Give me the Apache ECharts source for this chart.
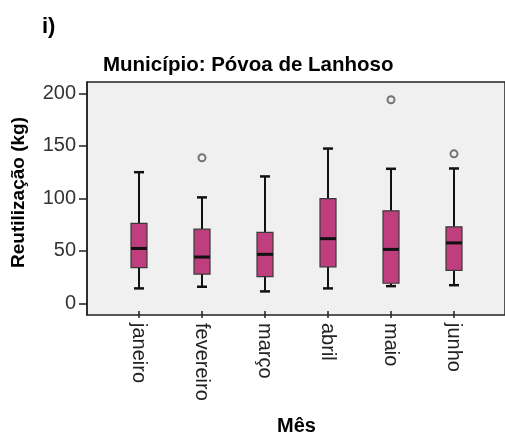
<!DOCTYPE html>
<html>
<head>
<meta charset="utf-8">
<script src="https://cdn.jsdelivr.net/npm/echarts@6/dist/echarts.min.js"></script>
<style>
  html, body { margin: 0; padding: 0; background: #fff; }
  #chart { width: 505px; height: 441px; }
</style>
</head>
<body>
<div id="chart"></div>
<script>
// Monthly reuse (kg) per month, Póvoa de Lanhoso
const months = ['janeiro', 'fevereiro', 'março', 'abril', 'maio', 'junho'];
// five-number summaries: lower whisker, Q1, median, Q3, upper whisker
const whiskerLow  = [10.8, 12.4, 7.9, 10.8, 13.0, 13.9];
const quartile1   = [31.0, 24.7, 22.2, 31.7, 15.8, 28.2];
const medians     = [49.5, 41.2, 43.8, 59.0, 48.6, 54.9];
const quartile3   = [73.9, 68.2, 65.0, 97.7, 86.0, 70.5];
const whiskerHigh = [123.4, 99.0, 119.3, 146.3, 126.7, 127.0];
// outliers as [month index, value]
const outliers = [[1, 137.4], [4, 193.6], [5, 141.2]];
const yTicks = [0, 50, 100, 150, 200];

const boxData = months.map((m, i) => [i, whiskerLow[i], quartile1[i], medians[i], quartile3[i], whiskerHigh[i]]);

const FONT = 'Liberation Sans, Arial, sans-serif';
const INK = '#222';

function renderBox(params, api) {
  const i = api.value(0);
  const pLow = api.coord([i, api.value(1)]);
  const pQ1 = api.coord([i, api.value(2)]);
  const pMed = api.coord([i, api.value(3)]);
  const pQ3 = api.coord([i, api.value(4)]);
  const pHigh = api.coord([i, api.value(5)]);
  const x = pMed[0];
  const bw = 16, cw = 10;
  const line = (x1, y1, x2, y2, w) => ({
    type: 'line', shape: { x1, y1, x2, y2 }, style: { stroke: '#111', lineWidth: w }
  });
  return {
    type: 'group',
    children: [
      line(x, pHigh[1], x, pQ3[1], 2),
      line(x, pQ1[1], x, pLow[1], 2),
      line(x - cw / 2, pHigh[1], x + cw / 2, pHigh[1], 2.5),
      line(x - cw / 2, pLow[1], x + cw / 2, pLow[1], 2.5),
      {
        type: 'rect',
        shape: { x: x - bw / 2, y: pQ3[1], width: bw, height: pQ1[1] - pQ3[1] },
        style: { fill: '#be3e7e', stroke: '#3a3a3a', lineWidth: 1.2 }
      },
      line(x - bw / 2, pMed[1], x + bw / 2, pMed[1], 3)
    ]
  };
}

const chart = echarts.init(document.getElementById('chart'), null, { renderer: 'canvas' });
chart.setOption({
  animation: false,
  backgroundColor: '#fff',
  title: [
    { text: 'i)', left: 37, top: 11, textStyle: { fontFamily: FONT, fontSize: 22, fontWeight: 'bold', color: '#000' } },
    { text: 'Município: Póvoa de Lanhoso', left: 98, top: 50, textStyle: { fontFamily: FONT, fontSize: 20.5, fontWeight: 'bold', color: '#000' } }
  ],
  graphic: [
    {
      type: 'text', x: 19, y: 192.5, rotation: Math.PI / 2,
      style: {
        text: 'Reutilização (kg)', fontFamily: FONT, fontSize: 19, fontWeight: 'bold',
        fill: '#000', align: 'center', verticalAlign: 'middle'
      }
    }
  ],
  grid: [
    { left: 87, top: 82, width: 419, height: 233, show: true, backgroundColor: '#f0f0f0', borderColor: '#222', borderWidth: 1.5 },
    { left: 107.5, top: 82, width: 378, height: 233 }
  ],
  xAxis: [
    { gridIndex: 0, type: 'value', min: 0, max: 1, show: false },
    {
      gridIndex: 1, type: 'category', data: months, boundaryGap: true, position: 'bottom',
      axisLine: { show: false, onZero: false },
      axisTick: { show: true, alignWithLabel: true, length: 7, lineStyle: { color: INK, width: 1.5 } },
      axisLabel: { rotate: -90, margin: 12, fontFamily: FONT, fontSize: 20, color: INK },
      name: 'Mês', nameLocation: 'middle', nameGap: 105,
      nameTextStyle: { fontFamily: FONT, fontSize: 20, fontWeight: 'bold', color: '#000' }
    }
  ],
  yAxis: [
    {
      gridIndex: 0, type: 'value', min: -11.1, max: 210.8,
      splitLine: { show: false },
      axisLine: { show: true, onZero: false, lineStyle: { color: INK, width: 1.5 } },
      axisTick: { show: true, length: 8, customValues: yTicks, lineStyle: { color: INK, width: 1.5 } },
      axisLabel: { customValues: yTicks, margin: 11, fontFamily: FONT, fontSize: 20, color: '#333' }
    },
    { gridIndex: 1, type: 'value', min: -11.1, max: 210.8, show: false }
  ],
  series: [
    {
      type: 'custom', xAxisIndex: 1, yAxisIndex: 1,
      renderItem: renderBox, data: boxData, encode: { x: 0, y: [1, 2, 3, 4, 5] }
    },
    {
      type: 'scatter', xAxisIndex: 1, yAxisIndex: 1, data: outliers,
      symbol: 'circle', symbolSize: 7,
      itemStyle: { color: '#f0f0f0', borderColor: '#555', borderWidth: 2 }
    }
  ]
});
</script>
</body>
</html>
